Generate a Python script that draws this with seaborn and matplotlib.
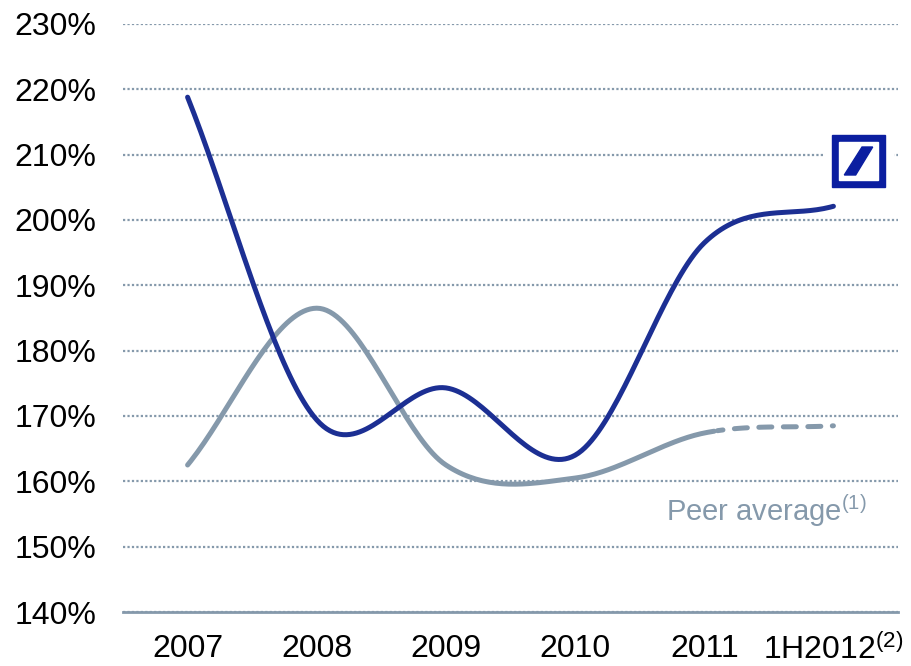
import numpy as np
import pandas as pd
import matplotlib
matplotlib.use("Agg")
import matplotlib.pyplot as plt
import seaborn as sns
from matplotlib.patches import Rectangle, Polygon

categories = ["2007", "2008", "2009", "2010", "2011", "1H2012$^{(2)}$"]
db_values = [218.8, 169.4, 174.3, 164.0, 196.5, 202.1]
peer_values = [162.5, 186.5, 162.5, 160.5, 167.4, 168.5]
y_ticks = [140, 150, 160, 170, 180, 190, 200, 210, 220, 230]

blue = "#1c2f93"
peer_col = "#8599ab"
logo_blue = "#0b1ea0"


def smooth(vals, n=40):
    # Excel-style smoothed line (Catmull-Rom / Hermite) through the points
    y = np.asarray(vals, dtype=float)
    k = len(y)
    m = np.zeros(k)
    m[1:-1] = (y[2:] - y[:-2]) / 2
    m[0] = y[1] - y[0]
    m[-1] = y[-1] - y[-2]
    xs, ys = [], []
    for i in range(k - 1):
        t = np.linspace(0, 1, n)
        h00 = 2 * t**3 - 3 * t**2 + 1
        h10 = t**3 - 2 * t**2 + t
        h01 = -2 * t**3 + 3 * t**2
        h11 = t**3 - t**2
        xs.append(i + t)
        ys.append(h00 * y[i] + h10 * m[i] + h01 * y[i + 1] + h11 * m[i + 1])
    return np.concatenate(xs), np.concatenate(ys)


sns.set_style("white")
plt.rcParams["font.family"] = ["Liberation Sans", "DejaVu Sans"]
plt.rcParams["mathtext.fontset"] = "custom"
plt.rcParams["mathtext.rm"] = "Liberation Sans"
plt.rcParams["mathtext.it"] = "Liberation Sans"

fig = plt.figure(figsize=(9.11, 6.66), dpi=100)
ax = fig.add_axes([123 / 911, 1 - 612 / 666, (898 - 123) / 911, (612 - 24) / 666])

dx, dy = smooth(db_values)
px, py = smooth(peer_values)
df_db = pd.DataFrame({"x": dx, "y": dy})
solid = px <= 4.1
df_peer = pd.DataFrame({"x": px[solid], "y": py[solid]})
df_peer_d = pd.DataFrame({"x": px[~solid], "y": py[~solid]})

lw = 3.6
sns.lineplot(data=df_peer, x="x", y="y", ax=ax, color=peer_col, lw=lw,
             sort=False, estimator=None, solid_capstyle="round")
sns.lineplot(data=df_peer_d, x="x", y="y", ax=ax, color=peer_col, lw=lw,
             sort=False, estimator=None, dashes=False,
             linestyle=(1.5, (2.6, 2.3)), dash_capstyle="round")
sns.lineplot(data=df_db, x="x", y="y", ax=ax, color=blue, lw=lw,
             sort=False, estimator=None, solid_capstyle="round")

ax.set_xlim(-0.5, 5.5)
ax.set_ylim(140, 230)
ax.set_xticks(range(len(categories)))
ax.set_xticklabels(categories)
ax.set_yticks(y_ticks)
ax.set_yticklabels([f"{v}%" for v in y_ticks])
ax.tick_params(axis="both", length=0, labelsize=23, colors="black")
ax.tick_params(axis="y", pad=19)
ax.tick_params(axis="x", pad=16)
ax.set_xlabel("")
ax.set_ylabel("")

ax.yaxis.grid(True, linestyle=(0, (1, 1.0)), color=peer_col, lw=1.6)
ax.xaxis.grid(False)
for s in ["left", "right", "top"]:
    ax.spines[s].set_visible(False)
ax.spines["bottom"].set_color(peer_col)
ax.spines["bottom"].set_linewidth(2)

ax.text(3.70, 153.9, "Peer average$^{(1)}$", color=peer_col, fontsize=21,
        ha="left", va="baseline")

# logo
lax = fig.add_axes([823 / 911, 1 - 196 / 666, 71 / 911, 70 / 666], zorder=5)
lax.set_xlim(0, 1)
lax.set_ylim(0, 1)
lax.set_axis_off()
lax.add_patch(Rectangle((0, 0), 1, 1, color="white"))
lax.add_patch(Rectangle((0.127, 0.129), 0.746, 0.742, color=logo_blue))
lax.add_patch(Rectangle((0.232, 0.229), 0.536, 0.542, color="white"))
lax.add_patch(Polygon([(0.30, 0.30), (0.46, 0.30), (0.70, 0.70), (0.55, 0.70)],
                      closed=True, color=logo_blue))

fig.savefig("out.png", dpi=100)
